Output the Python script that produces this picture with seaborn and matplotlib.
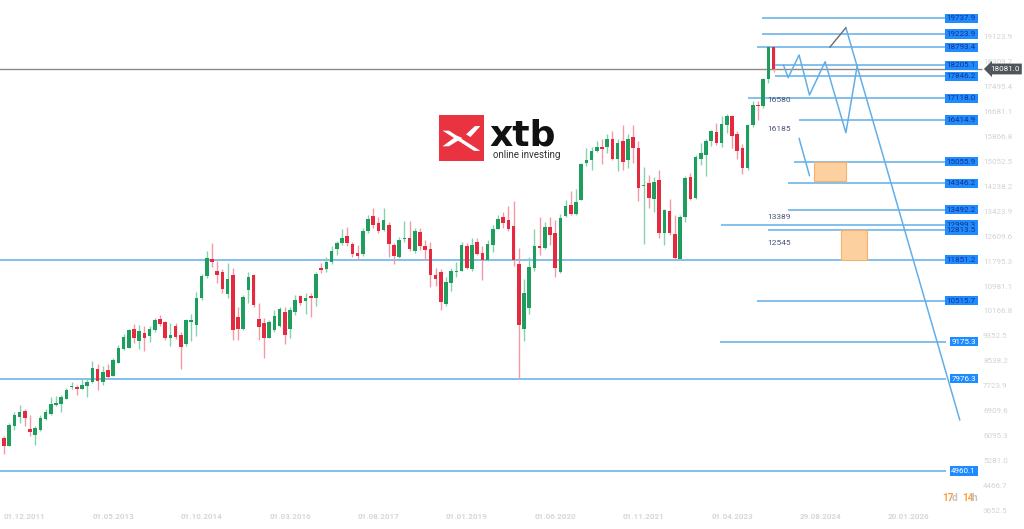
import matplotlib
matplotlib.use("Agg")
import matplotlib.pyplot as plt
from matplotlib.patches import Rectangle, Polygon
import numpy as np
import pandas as pd
import seaborn as sns

# monthly candles, first one = Dec 2011, last one = Apr 2024 (x = month number)
opens = [6040, 5780, 6440, 6725, 6923, 6330, 6130, 6290, 6660, 6830,
         7110, 7160, 7325, 7690, 7710, 7650, 7740, 7850, 8300, 7870,
         8260, 8070, 8500, 8940, 8980, 9580, 9200, 9475, 9375, 9560,
         9920, 9810, 9310, 9700, 9400, 9100, 9830, 9725, 10595, 11330,
         11880, 11490, 11470, 10730, 11360, 10000, 9610, 10870, 11360, 9920,
         9800, 9310, 9560, 9700, 10140, 9610, 10160, 10685, 10510, 10675,
         10620, 11580, 11560, 11765, 12200, 12395, 12637, 12363, 12090, 12036,
         12778, 13290, 13050, 12834, 12975, 12320, 11960, 12540, 12580, 12124,
         12755, 12290, 12212, 11360, 11470, 10400, 11090, 11470, 11500, 12290,
         11545, 12430, 12070, 11850, 12343, 12855, 13245, 13160, 12940, 11710,
         9595, 10270, 11580, 12290, 12230, 12910, 12723, 11470, 13270, 13650,
         13345, 13815, 15012, 15125, 15395, 15526, 15526, 15810, 15155, 15722,
         15125, 15850, 15505, 14260, 14360, 13850, 14470, 12723, 13450, 12690,
         11880, 13235, 14546, 13870, 15155, 15287, 15720, 16025, 15667, 16268,
         16540, 15960, 15505, 14850, 16245, 16900, 16868, 17740, 18793]
highs = [6105, 6520, 6880, 7110, 6980, 6800, 6420, 6780, 6990, 7380,
         7400, 7450, 7680, 7850, 7780, 8000, 7950, 8560, 8440, 8400,
         8450, 8650, 9060, 9430, 9600, 9760, 9720, 9700, 9700, 9950,
         10050, 9850, 9780, 9800, 9480, 9930, 10080, 10800, 11400, 12150,
         12390, 11800, 11560, 11740, 11600, 10300, 10700, 11450, 11400, 10450,
         9950, 9900, 10200, 10300, 10320, 10300, 10720, 10720, 10760, 10760,
         11460, 11750, 11950, 12300, 12460, 12850, 12920, 12450, 12320, 12880,
         13330, 13560, 13250, 13560, 13080, 12400, 12610, 13127, 13127, 12900,
         12900, 12500, 12450, 11600, 11560, 11300, 11600, 11770, 12440, 12400,
         12560, 12580, 12300, 12490, 13000, 13325, 13410, 13596, 13760, 12250,
         11230, 11950, 12865, 13236, 13100, 13250, 13150, 13350, 13815, 14100,
         14170, 15020, 15500, 15526, 15745, 15780, 15960, 16050, 15800, 16245,
         15950, 16250, 15740, 14870, 14632, 14560, 14800, 13500, 13850, 13300,
         13300, 14600, 14700, 15270, 15660, 15780, 16080, 16330, 16540, 16600,
         16580, 16060, 15620, 16290, 17030, 17030, 17780, 18793, 18793]
lows = [5525, 5760, 6300, 6510, 6430, 6100, 5820, 6250, 6620, 6800,
        7080, 6870, 7300, 7620, 7456, 7620, 7380, 7840, 7600, 7780,
        7990, 8050, 8470, 8920, 8960, 9150, 8950, 8880, 9180, 9500,
        9700, 9250, 9050, 9280, 8300, 9050, 9200, 9380, 10550, 11250,
        11630, 11100, 10760, 10595, 9235, 9235, 9550, 10435, 10325, 9250,
        8635, 9300, 9480, 9650, 9090, 9300, 10050, 10380, 10100, 10000,
        10350, 11410, 11450, 11720, 12000, 12350, 12300, 11950, 11860, 11990,
        12740, 12900, 12720, 12800, 11950, 11720, 11900, 12450, 12150, 12090,
        12180, 11860, 10980, 11010, 10215, 10350, 10850, 11300, 11480, 11560,
        11500, 12000, 11200, 11800, 12100, 12850, 12900, 12800, 11650, 7976,
        9213, 10100, 11500, 12000, 12200, 12340, 11300, 11420, 13250, 13300,
        13300, 13800, 14900, 14795, 15380, 14980, 15350, 15100, 14760, 14800,
        14850, 15000, 13760, 12363, 13540, 13400, 12560, 12343, 12650, 11851,
        11851, 13100, 13800, 13850, 14950, 14577, 15560, 15600, 15525, 16000,
        15504, 15150, 14640, 14800, 16200, 16430, 16800, 17630, 17980]
closes = [5780, 6455, 6802, 6890, 6694, 6240, 6370, 6705, 6890, 7160,
          7195, 7360, 7590, 7720, 7650, 7763, 7850, 8330, 7890, 8200,
          8025, 8590, 8960, 9330, 9550, 9310, 9530, 9290, 9595, 9890,
          9745, 9290, 9400, 9340, 9016, 9890, 9880, 10595, 11335, 11925,
          11790, 11360, 10900, 11230, 9560, 9595, 10650, 11300, 10380, 9670,
          9310, 9830, 10020, 10250, 9400, 10220, 10545, 10430, 10620, 10620,
          11380, 11525, 11765, 12156, 12395, 12580, 12395, 12036, 11985, 12778,
          13180, 12997, 12778, 13160, 12363, 11990, 12505, 12580, 12210, 12778,
          12290, 12180, 11360, 11230, 10490, 11140, 11490, 11500, 12343, 11600,
          12343, 12036, 11850, 12363, 12855, 13192, 13050, 12865, 11850, 9725,
          10760, 11630, 12290, 12230, 12910, 12670, 11580, 13214, 13596, 13345,
          13735, 14980, 15125, 15395, 15526, 15480, 15780, 15155, 15667, 15045,
          15810, 15505, 14196, 14305, 13870, 14390, 12723, 13490, 12723, 11905,
          13235, 14520, 13850, 15200, 15340, 15745, 16050, 15667, 16290, 16540,
          15885, 15420, 14850, 16245, 16900, 16857, 17740, 18793, 18081]

price_now = 18081.0

# horizontal levels drawn on the chart and where each one starts (month number)
levels = [19737.9, 19223.9, 18793.4, 18205.1, 17846.2, 17118.0, 16414.9, 15055.9,
          14346.2, 13492.2, 12999.3, 12813.5, 11851.2, 10515.7, 9175.3, 7976.3, 4960.1]
level_start = [145.8, 145.8, 144.8, 148.3, 148.3, 143.1, 152.9, 151.9,
               150.8, 150.8, 137.9, 146.9, -1, 144.8, 137.7, -1, -1]
level_white = [9175.3, 7976.3, 4960.1]

# right price scale
scale_ticks = [19123.9, 18309.7, 17495.4, 16681.1, 15866.8, 15052.5, 14238.2, 13423.9,
               12609.6, 11795.3, 10981.1, 10166.8, 9352.5, 8538.2, 7723.9, 6909.6,
               6095.3, 5281.0, 4466.7, 3652.5]
date_labels = ["01.12.2011", "01.05.2013", "01.10.2014", "01.03.2016", "01.08.2017",
               "01.01.2019", "01.06.2020", "01.11.2021", "01.04.2023", "29.08.2024",
               "20.01.2026"]
date_pos = [0, 17, 34, 51, 68, 85, 102, 119, 136, 153, 170]

# drawn scenario
zigzag_x = [149.9, 150.8, 152.9, 154.9, 157.9, 161.9, 164.1]
zigzag_y = [18211, 17797, 18538, 17232, 18319, 16001, 18211]
drop_x = [161.9, 183.8]
drop_y = [19429, 6624]
gray_x = [158.8, 161.9]
gray_y = [18789, 19429]
short_x = [152.9, 154.9]
short_y = [15819, 14598]
zones = [(155.8, 162.0, 14425, 15055.9), (161.0, 166.0, 11851.2, 12813.5)]
notes = ["16580", "16185", "13389", "12545"]
notes_y = [17060, 16112, 13260, 12411]
notes_x = 146.8

sns.set_theme(style="white")
plt.rcParams["font.family"] = ["Roboto", "DejaVu Sans"]

W, H = 1024, 529
fig = plt.figure(figsize=(W / 100, H / 100), dpi=100)
ax = fig.add_axes([0, 0, 1, 1])
ax.set_xlim(-0.77, 196.15)
ax.set_ylim(3066, 20333)
ax.axis("off")

df = pd.DataFrame({"o": opens, "h": highs, "l": lows, "c": closes})
df["i"] = np.arange(len(df))
up = df["c"] >= df["o"]
body_col = np.where(up, "#1f9d5e", "#e42a3f")
wick_col = np.where(up, "#86d2ab", "#f59aa5")

line_blue = "#62afe8"
ax.hlines(levels, level_start, 181.2, color=line_blue, lw=1.1, zorder=1)
ax.hlines(price_now, -1, 188, color="#8a8a8a", lw=1.0, zorder=1)

ax.vlines(df["i"], df["l"], df["h"], colors=wick_col, lw=1.0, zorder=2)
ax.bar(df["i"], (df["c"] - df["o"]).abs(), bottom=df[["o", "c"]].min(axis=1),
       width=0.68, color=body_col, linewidth=0, zorder=3)

for x0, x1, y0, y1 in zones:
    ax.add_patch(Rectangle((x0, y0), x1 - x0, y1 - y0, fc="#fdd09f", ec="#f5b06d",
                           lw=0.8, zorder=2))

sns.lineplot(x=zigzag_x, y=zigzag_y, sort=False, estimator=None, color=line_blue,
             lw=1.1, ax=ax, zorder=4)
sns.lineplot(x=drop_x, y=drop_y, sort=False, estimator=None, color=line_blue,
             lw=1.1, ax=ax, zorder=4)
sns.lineplot(x=short_x, y=short_y, sort=False, estimator=None, color=line_blue,
             lw=1.1, ax=ax, zorder=4)
sns.lineplot(x=gray_x, y=gray_y, sort=False, estimator=None, color="#6b6b6b",
             lw=1.0, ax=ax, zorder=4)

for t, y in zip(notes, notes_y):
    ax.text(notes_x, y, t, fontsize=6, color="#4a5578", va="center", ha="left")

# level boxes
for lv in levels:
    tc = "white" if lv in level_white else "#1c2f86"
    ax.text(186.9, lv, f"{lv:.1f}", fontsize=5.8, color=tc, ha="right", va="center",
            zorder=6, bbox=dict(boxstyle="square,pad=0.2", fc="#1e8bff", ec="none"))

ytr = ax.get_yaxis_transform()
for v in scale_ticks:
    ax.text(983 / W, v, f"{v:.1f}", transform=ytr, fontsize=5.8, color="#d3d3d3",
            ha="left", va="center", zorder=5)
ax.text(990 / W, price_now, f"{price_now:.1f}", transform=ytr, fontsize=5.8,
        color="white", ha="left", va="center", zorder=7,
        bbox=dict(boxstyle="larrow,pad=0.3", fc="#4f555b", ec="none"))

xtr = ax.get_xaxis_transform()
for p, lab in zip(date_pos, date_labels):
    ax.text(p, 1 - 516.7 / H, lab, transform=xtr, fontsize=5.8, color="#d6d6d6",
            ha="left", va="center", fontweight="bold")

# remaining time of the current candle
for x, t, c in [(941.7, "17", "#f7a349"), (951.7, "d", "#c4c4c4"),
                (961.7, "14", "#f7a349"), (971.7, "h", "#c4c4c4")]:
    fig.text(x / W, 1 - 497.7 / H, t, fontsize=7.3, color=c, fontweight="bold",
             ha="left", va="center")

# logo
lax = fig.add_axes([439 / W, 1 - 161 / H, 45 / W, 46 / H])
lax.set_xlim(0, 1)
lax.set_ylim(0, 1)
lax.axis("off")
lax.add_patch(Rectangle((0, 0), 1, 1, fc="#ea3340", ec="none"))
lax.add_patch(Polygon([(0.08, 0.66), (0.22, 0.66), (0.92, 0.22), (0.78, 0.22)],
                      fc="white", ec="none"))
lax.add_patch(Polygon([(0.08, 0.32), (0.22, 0.32), (0.52, 0.50), (0.40, 0.55)],
                      fc="white", ec="none"))
lax.add_patch(Polygon([(0.60, 0.58), (0.70, 0.52), (0.92, 0.76), (0.80, 0.76)],
                      fc="white", ec="none"))
fig.text(489 / W, 1 - 146 / H, "xtb", fontsize=26, fontweight="bold", color="#111111",
         ha="left", va="baseline", family="DejaVu Sans")
fig.text(493 / W, 1 - 154.5 / H, "online investing", fontsize=7, color="#333333",
         ha="left", va="center")

fig.savefig("out.png", dpi=100, facecolor="white")
